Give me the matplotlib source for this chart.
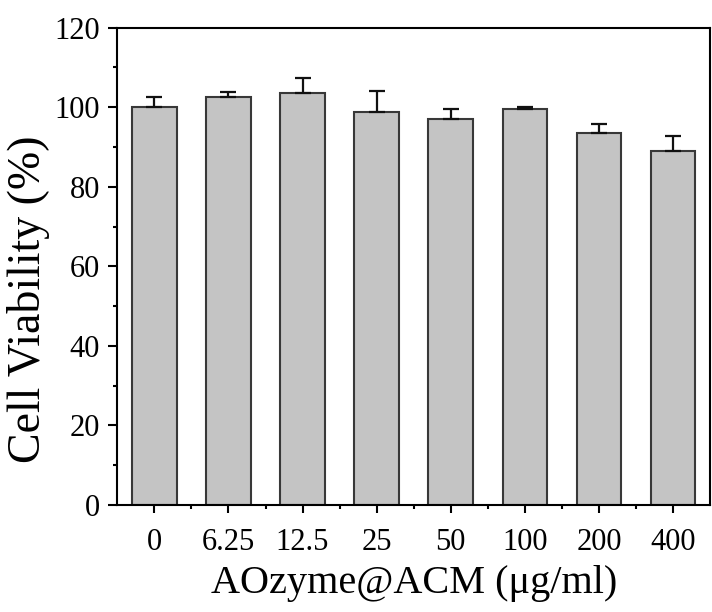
import numpy as np
import matplotlib.pyplot as plt
from matplotlib.ticker import MultipleLocator, FixedLocator

# concentrations and viability
labels = ["0", "6.25", "12.5", "25", "50", "100", "200", "400"]
viability = [100.0, 102.7, 103.6, 98.7, 97.0, 99.6, 93.6, 89.1]
err = [2.7, 1.2, 3.8, 5.5, 2.5, 0.5, 2.2, 3.7]

plt.rcParams["font.family"] = ["Liberation Serif", "DejaVu Serif"]

fig = plt.figure(figsize=(7.12, 6.12), dpi=100)
ax = fig.add_axes([0.1648, 0.1748, 0.8324, 0.7799])

x = np.arange(len(labels))
ax.bar(x, viability, width=0.6, color="#c4c4c4", edgecolor="#383838", linewidth=1.5,
       yerr=[np.zeros(len(err)), err], capsize=5.5,
       error_kw=dict(ecolor="#111111", elinewidth=1.6, capthick=1.6))

ax.set_xlim(-0.5, 7.5)
ax.set_ylim(0, 120)
ax.set_xticks(x)
ax.set_xticklabels(labels)
ax.xaxis.set_minor_locator(FixedLocator(x[:-1] + 0.5))
ax.yaxis.set_major_locator(MultipleLocator(20))
ax.yaxis.set_minor_locator(MultipleLocator(10))

ax.tick_params(axis="both", which="major", direction="out", labelsize=22, width=1.5)
ax.tick_params(axis="y", which="major", length=6.5, pad=6)
ax.tick_params(axis="y", which="minor", length=3, width=1.5)
ax.tick_params(axis="x", which="major", length=5.5, pad=11)
ax.tick_params(axis="x", which="minor", length=3, width=1.5)

for s in ax.spines.values():
    s.set_linewidth(1.5)

ax.set_xlabel("AOzyme@ACM (μg/ml)", fontsize=29, labelpad=6)
ax.set_ylabel("Cell Viability (%)", fontsize=33)
ax.yaxis.set_label_coords(-0.1135, 0.432)

fig.savefig("out.png", dpi=100)
